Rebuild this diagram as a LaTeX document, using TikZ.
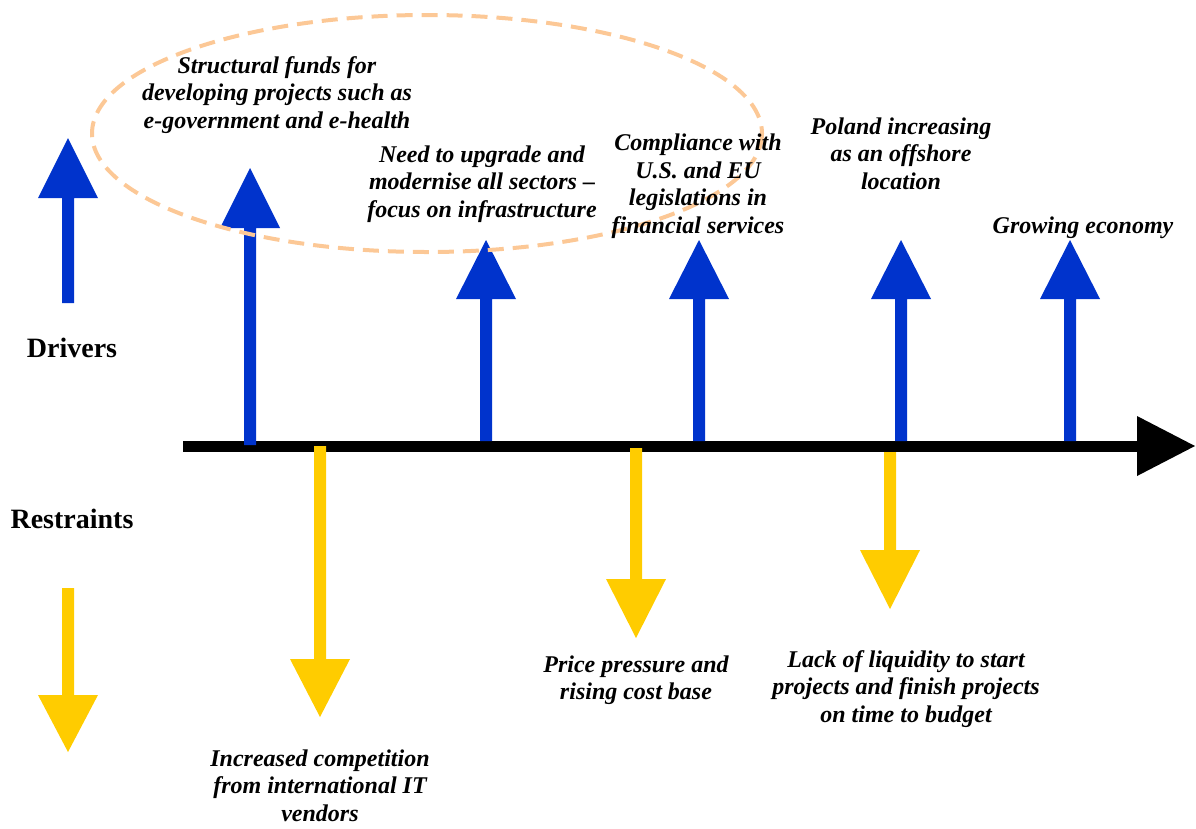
\documentclass[tikz,border=0pt]{standalone}
\usepackage{fontspec}
\setmainfont{Liberation Serif}
\definecolor{drvblue}{RGB}{0,51,204}
\definecolor{rstyellow}{RGB}{255,204,0}
\definecolor{ellorange}{RGB}{252,200,150}
\newcommand\myUpArr[4]{\fill[drvblue] ({#1-6},#2) -- ({#1-6},#3) -- ({#1-30},#3) -- (#1,#4) -- ({#1+30},#3) -- ({#1+6},#3) -- ({#1+6},#2) -- cycle;}
\newcommand\myDownArr[4]{\fill[rstyellow] ({#1-6},#2) -- ({#1-6},#3) -- ({#1-30},#3) -- (#1,#4) -- ({#1+30},#3) -- ({#1+6},#3) -- ({#1+6},#2) -- cycle;}
\tikzset{
  lbl/.style={font=\fontsize{24}{27.5}\selectfont\bfseries\itshape, align=center, inner sep=0pt, anchor=base},
  legend/.style={font=\fontsize{28}{32}\selectfont\bfseries, inner sep=0pt, anchor=base},
  ellipsestyle/.style={draw=ellorange, line width=4pt, dash pattern=on 16pt off 9pt}
}
\begin{document}
\begin{tikzpicture}[x=1pt,y=-1pt]
\useasboundingbox (0,0) rectangle (1196,828);
% axis
\coordinate (axL) at (183,446);
\coordinate (axR) at (1137,446);
\coordinate (axT) at (1195,446);
\draw[line width=11pt] (axL) -- (axR);
\fill (1137,416) -- (axT) -- (1137,476) -- cycle;
% drivers
\myUpArr{68}{303}{198}{138}
\myUpArr{250}{445}{228}{168}
\myUpArr{486}{441}{299}{240}
\myUpArr{699}{441}{299}{240}
\myUpArr{901}{441}{299}{240}
\myUpArr{1070}{441}{299}{240}
% restraints
\myDownArr{68}{588}{695}{752}
\myDownArr{320}{446}{659}{717}
\myDownArr{636}{448}{579}{638}
\myDownArr{890}{452}{550}{609}
% ellipse
\draw[ellipsestyle] (427,133.5) ellipse [x radius=335, y radius=118.5];
% labels (anchor base = baseline of last line)
\node[legend] (drv) at (72,357) {Drivers};
\node[legend] (rst) at (72,528) {Restraints};
\node[lbl] (t1) at (277,128) {Structural funds for\\developing projects such as\\e-government and e-health};
\node[lbl] (t2) at (482,217) {Need to upgrade and\\modernise all sectors –\\focus on infrastructure};
\node[lbl] (t3) at (698,233) {Compliance with\\U.S. and EU\\legislations in\\financial services};
\node[lbl] (t4) at (901,189) {Poland increasing\\as an offshore\\location};
\node[lbl] (t5) at (1083,233) {Growing economy};
\node[lbl] (r1) at (320,821) {Increased competition\\from international IT\\vendors};
\node[lbl] (r2) at (636,699.5) {Price pressure and\\rising cost base};
\node[lbl] (r3) at (906,722) {Lack of liquidity to start\\projects and finish projects\\on time to budget};
\end{tikzpicture}
\end{document}
